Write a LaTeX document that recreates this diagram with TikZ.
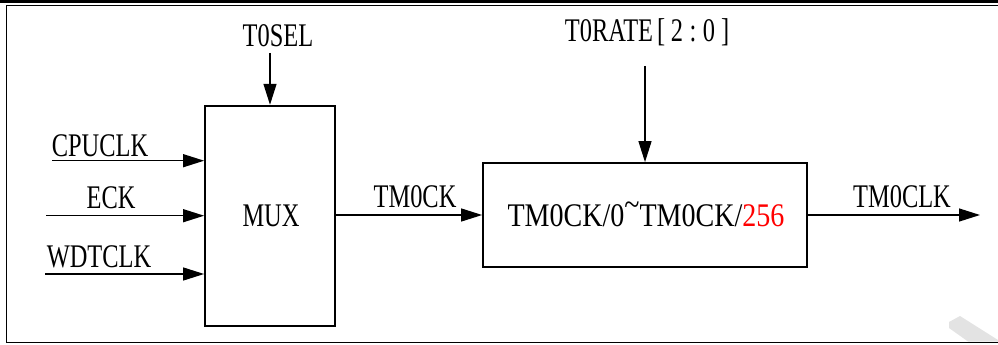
\documentclass[tikz,border=0pt]{standalone}
\usepackage{fontspec}
\usetikzlibrary{arrows.meta}
\newfontfamily\labfont[FakeStretch=0.74]{Liberation Serif}
\newfontfamily\boxfont[FakeStretch=0.85]{Liberation Serif}
\begin{document}
\begin{tikzpicture}[x=1pt,y=-1pt,
  lab/.style={font=\labfont\fontsize{33}{33}\selectfont, inner sep=0pt, anchor=base},
  blk/.style={draw, line width=1.8pt, inner sep=0pt},
  arr/.style={line width=1.3pt, -{Triangle[length=21pt,width=13pt]}},
  frm/.style={line width=1.6pt}]
\useasboundingbox (0,0) rectangle (998,345);
% frame
\fill (0,0) rectangle (998,2.8);
\draw[frm] (998,5.5) -- (6.5,5.5) -- (6.5,342.5) -- (998,342.5);
% watermark fragment
\fill[gray!22] (949,322) -- (960,316) -- (998,340) -- (998,341.5) -- (968,341.5) -- (949,328) -- cycle;
% blocks
\node[blk, minimum width=130pt, minimum height=220pt] (mux) at (270,215.7) {};
\node[blk, minimum width=324pt, minimum height=104pt] (div) at (645,215) {};
% labels
\node[lab] (muxt) at (271,226) {MUX};
\node[lab, font=\boxfont\fontsize{33}{33}\selectfont] (divt) at (646,226) {TM0CK/0\raisebox{0.33em}{\textasciitilde}TM0CK/\textcolor{red}{256}};
\node[lab] (tosel) at (278,47) {T0SEL};
\node[lab] (torate) at (649,42) {T0RATE\makebox[16pt]{[}\makebox[16pt]{2}\makebox[16pt]{:}\makebox[16pt]{0}\makebox[16pt]{]}};
\node[lab] (cpuclk) at (100,156) {CPUCLK};
\node[lab] (eck) at (111,208) {ECK};
\node[lab] (wdtclk) at (99,267) {WDTCLK};
\node[lab] (tmock) at (415,207) {TM0CK};
\node[lab] (tmoclk) at (902,207) {TM0CLK};
% connector ends
\coordinate (cpuin) at (52,160.7);
\coordinate (eckin) at (46,215.7);
\coordinate (wdtin) at (45,274);
\coordinate (selin) at (270,53);
\coordinate (ratein) at (645,66);
\coordinate (out) at (980,215);
% connectors
\draw[arr] (cpuin) -- (cpuin -| mux.west);
\draw[arr] (eckin) -- (eckin -| mux.west);
\draw[arr] (wdtin) -- (wdtin -| mux.west);
\draw[arr] (selin) -- (mux.north);
\draw[arr] (ratein) -- (div.north);
\draw[arr] (mux.east |- div.west) -- (div.west);
\draw[arr] (div.east) -- (out);
\end{tikzpicture}
\end{document}
